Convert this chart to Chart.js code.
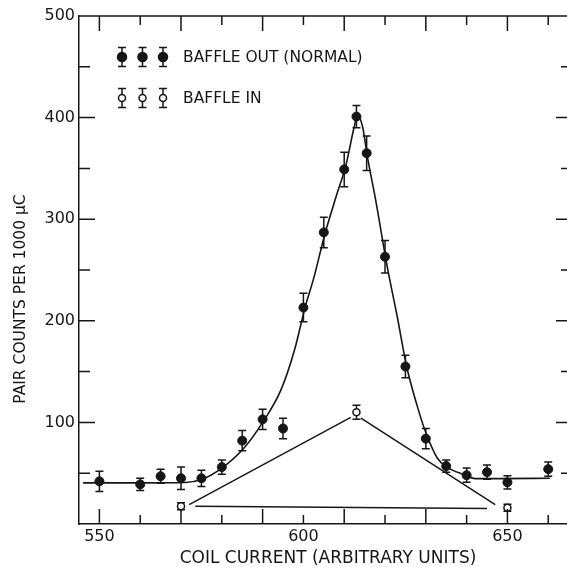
<!DOCTYPE html>
<html>
<head>
<meta charset="utf-8">
<script src="https://cdn.jsdelivr.net/npm/chart.js@4.4.1/dist/chart.umd.min.js"></script>
<style>
  html, body { margin: 0; padding: 0; background: #fff; }
  canvas { display: block; }
</style>
</head>
<body>
<canvas id="myChart" width="567" height="567"></canvas>
<script>
// baffle out (normal) - filled points with error bars
const outX = [550, 560, 565, 570, 575, 580, 585, 590, 595, 600, 605, 610, 613, 615.5, 620, 625, 630, 635, 640, 645, 650, 660];
const outY = [42, 39, 47, 45, 45, 56, 82, 103, 94, 213, 287, 349, 401, 365, 263, 155, 84, 57, 48, 51, 41, 54];
const outErr = [10, 6, 7, 11, 8, 7, 10, 10, 10, 14, 15, 17, 11, 17, 16, 11, 10, 6, 7, 7, 6.5, 7];

// baffle in - open points
const inX = [570, 613, 650];
const inY = [17.5, 110, 16];
const inErr = [3.5, 7, 3.5];

// straight lines joining the baffle-in points (triangle)
const inLinesX = [[572, 611.6], [614.1, 647], [573.5, 645]];
const inLinesY = [[19, 105], [104.3, 19], [17.5, 15.2]];

// hand drawn curve through the normal points
const fitX = [546, 560, 571, 575, 580, 585.5, 590, 594.5, 597.8, 600.4, 602.6, 605.3, 608, 610.4, 612.4, 613.2, 614.5, 615.7, 617.7, 620.6, 623, 625.3, 627.9, 629.9, 632.8, 635.2, 639.3, 642.1, 648.2, 660.4];
const fitY = [40.5, 40.5, 40.8, 43.7, 55, 75, 100, 132, 171, 213, 243, 286, 322, 353, 390, 402, 391, 361, 319, 252, 204, 155, 116, 91, 65, 56, 48.6, 44.7, 44.7, 45];

// axes
const xTicks = [550, 560, 570, 580, 590, 600, 610, 620, 630, 640, 650, 660];
const yTicks = [0, 50, 100, 150, 200, 250, 300, 350, 400, 450, 500];
const xLabels = [550, 600, 650];
const yLabels = [100, 200, 300, 400, 500];

const ink = "#161616";
const fontFam = "'DejaVu Sans', sans-serif";

function pts(xs, ys) {
  return xs.map((x, i) => ({ x: x, y: ys[i] }));
}

// error bars, inward ticks, top spine, titles and the hand made legend
const figPlugin = {
  id: "fig",
  beforeDatasetsDraw(chart) {
    const ctx = chart.ctx;
    const ys = chart.scales.y;
    ctx.save();
    ctx.strokeStyle = ink;
    ctx.lineWidth = 1.5;
    [[0, outErr], [1, inErr]].forEach(([i, errs]) => {
      chart.getDatasetMeta(i).data.forEach((pt, j) => {
        const v = chart.data.datasets[i].data[j].y;
        const t = ys.getPixelForValue(v + errs[j]);
        const b = ys.getPixelForValue(v - errs[j]);
        ctx.beginPath();
        ctx.moveTo(pt.x, t); ctx.lineTo(pt.x, b);
        ctx.moveTo(pt.x - 4, t); ctx.lineTo(pt.x + 4, t);
        ctx.moveTo(pt.x - 4, b); ctx.lineTo(pt.x + 4, b);
        ctx.stroke();
      });
    });
    ctx.restore();
  },
  afterDraw(chart) {
    const ctx = chart.ctx;
    const xs = chart.scales.x, ys = chart.scales.y;
    const { left, right, top, bottom } = chart.chartArea;
    ctx.save();
    ctx.strokeStyle = ink;
    ctx.lineWidth = 1.5;
    ctx.beginPath();
    xTicks.forEach((v, k) => {
      const px = xs.getPixelForValue(v);
      const len = k % 2 === 0 ? 15 : 9;
      ctx.moveTo(px, bottom); ctx.lineTo(px, bottom - len);
      ctx.moveTo(px, top); ctx.lineTo(px, top + len);
    });
    yTicks.forEach((v) => {
      if (v === 0 || v === 500) return;
      const py = ys.getPixelForValue(v);
      const len = v % 100 === 0 ? 16 : 11;
      ctx.moveTo(left, py); ctx.lineTo(left + len, py);
      ctx.moveTo(right + 5, py); ctx.lineTo(right + 5 - len, py);
    });
    ctx.moveTo(left, top); ctx.lineTo(chart.width, top);
    ctx.stroke();

    // axis titles
    ctx.fillStyle = ink;
    ctx.textAlign = "center";
    ctx.textBaseline = "middle";
    ctx.font = "17px " + fontFam;
    ctx.fillText("COIL CURRENT (ARBITRARY UNITS)", (left + right) / 2 + 5, bottom + 35);
    ctx.save();
    ctx.translate(left - 58, (top + bottom) / 2 + 29);
    ctx.rotate(-Math.PI / 2);
    ctx.font = "15.5px " + fontFam;
    ctx.fillText("PAIR COUNTS PER 1000 \u03BCC", 0, 0);
    ctx.restore();

    // legend: three sample points each
    const rows = [
      { y: top + 41, filled: true, r: 4.5, text: "BAFFLE OUT (NORMAL)" },
      { y: top + 82, filled: false, r: 3.5, text: "BAFFLE IN" },
    ];
    rows.forEach((row) => {
      for (let k = 0; k < 3; k++) {
        const cx = left + 43 + k * 20.5;
        ctx.beginPath();
        ctx.moveTo(cx, row.y - 9.5); ctx.lineTo(cx, row.y + 9.5);
        ctx.moveTo(cx - 4, row.y - 9.5); ctx.lineTo(cx + 4, row.y - 9.5);
        ctx.moveTo(cx - 4, row.y + 9.5); ctx.lineTo(cx + 4, row.y + 9.5);
        ctx.stroke();
        ctx.beginPath();
        ctx.arc(cx, row.y, row.r, 0, Math.PI * 2);
        ctx.fillStyle = row.filled ? ink : "#fff";
        ctx.fill();
        ctx.stroke();
      }
      ctx.fillStyle = ink;
      ctx.textAlign = "left";
      ctx.font = "15.5px " + fontFam;
      ctx.fillText(row.text, left + 104, row.y + 1);
    });
    ctx.restore();
  },
};

const datasets = [
  {
    label: "BAFFLE OUT (NORMAL)",
    data: pts(outX, outY),
    showLine: false,
    pointRadius: 4.5,
    pointBackgroundColor: ink,
    pointBorderColor: ink,
    pointBorderWidth: 1,
    order: 0,
  },
  {
    label: "BAFFLE IN",
    data: pts(inX, inY),
    showLine: false,
    pointRadius: 3.5,
    pointBackgroundColor: "#fff",
    pointBorderColor: ink,
    pointBorderWidth: 1.5,
    order: 0,
  },
  {
    label: "curve",
    data: pts(fitX, fitY),
    showLine: true,
    pointRadius: 0,
    borderColor: ink,
    borderWidth: 1.6,
    cubicInterpolationMode: "monotone",
    order: 1,
  },
];
for (let s = 0; s < inLinesX.length; s++) {
  datasets.push({
    label: "in line " + s,
    data: pts(inLinesX[s], inLinesY[s]),
    showLine: true,
    pointRadius: 0,
    borderColor: ink,
    borderWidth: 1.5,
    order: 1,
  });
}

const ctx = document.getElementById("myChart").getContext("2d");
const myChart = new Chart(ctx, {
  type: "scatter",
  data: { datasets: datasets },
  plugins: [figPlugin],
  options: {
    responsive: false,
    animation: false,
    devicePixelRatio: 1,
    layout: { autoPadding: false, padding: { top: 16, right: 0, left: 0, bottom: 0 } },
    plugins: { legend: { display: false }, tooltip: { enabled: false } },
    scales: {
      x: {
        type: "linear",
        min: 545,
        max: 664.6,
        afterBuildTicks: (scale) => { scale.ticks = xTicks.map((v) => ({ value: v })); },
        afterFit: (scale) => {
          scale.height = 43;
          scale.paddingLeft = 0;
          scale.paddingRight = 0;
        },
        grid: { display: false, drawTicks: false },
        border: { display: true, color: ink, width: 1.5 },
        ticks: {
          autoSkip: false,
          maxRotation: 0,
          padding: 3,
          color: ink,
          font: { family: fontFam, size: 16 },
          callback: (v) => (xLabels.includes(v) ? String(v) : ""),
        },
      },
      y: {
        type: "linear",
        min: 0,
        max: 500,
        afterBuildTicks: (scale) => { scale.ticks = yTicks.map((v) => ({ value: v })); },
        afterFit: (scale) => {
          scale.width = 79;
          scale.paddingTop = 0;
          scale.paddingBottom = 0;
        },
        grid: { display: false, drawTicks: false },
        border: { display: true, color: ink, width: 1.5 },
        ticks: {
          autoSkip: false,
          padding: 4,
          color: ink,
          font: { family: fontFam, size: 16 },
          callback: (v) => (yLabels.includes(v) ? String(v) : ""),
        },
      },
    },
  },
});
</script>
</body>
</html>
